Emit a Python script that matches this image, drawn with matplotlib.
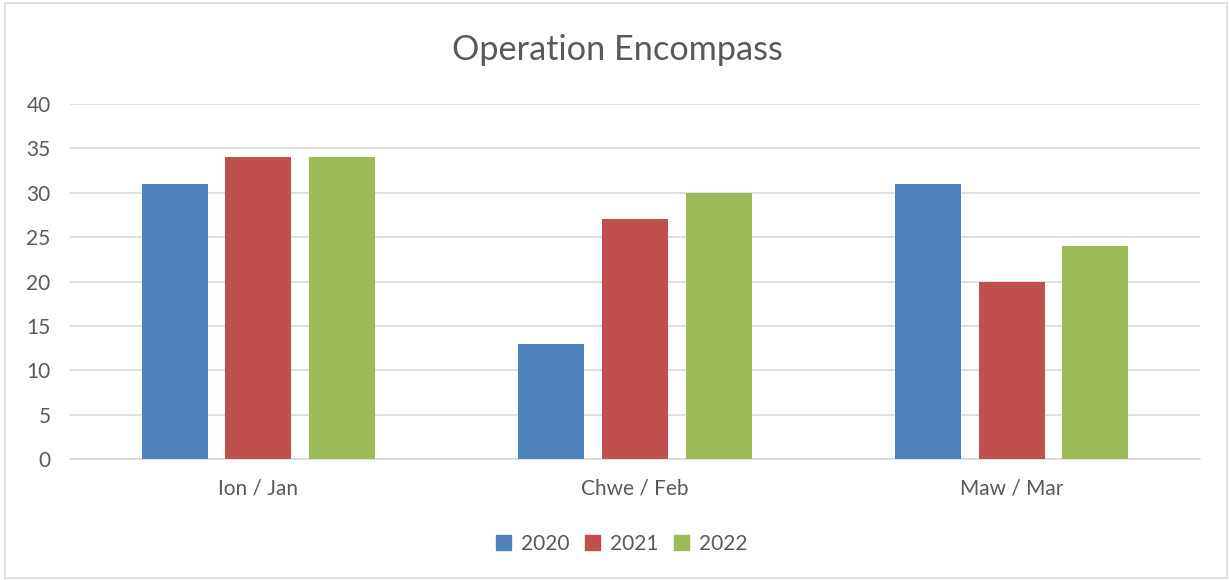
import matplotlib
matplotlib.use("Agg")
import matplotlib.pyplot as plt
import numpy as np
from matplotlib.patches import Rectangle

categories = ["Ion / Jan", "Chwe / Feb", "Maw / Mar"]
series_names = ["2020", "2021", "2022"]
values_2020 = [31, 13, 31]
values_2021 = [34, 27, 20]
values_2022 = [34, 30, 24]
colors = ["#4F81BD", "#C0504D", "#9BBB59"]
yticks = [0, 5, 10, 15, 20, 25, 30, 35, 40]

plt.rcParams['font.family'] = ['Lato', 'DejaVu Sans']
W, H = 1229, 580
fig = plt.figure(figsize=(W/100, H/100), dpi=100)
fig.patches.append(Rectangle((5/W, 2/H), 1222/W, 575/H, transform=fig.transFigure,
                             fill=False, edgecolor="#D9D9D9", linewidth=1.2))
ax = fig.add_axes([70/W, 1 - 459/H, 1130/W, (459-104)/H])

series = [values_2020, values_2021, values_2022]
x = np.arange(len(categories))
bw = 0.175
step = 0.222
for i, (vals, c, name) in enumerate(zip(series, colors, series_names)):
    ax.bar(x + (i - 1) * step, vals, width=bw, color=c, label=name, zorder=3)

ax.set_xlim(-0.5, 2.5)
ax.set_ylim(0, 40)
ax.set_yticks(yticks)
ax.set_xticks(x)
ax.set_xticklabels(categories)
ax.grid(axis='y', color="#D9D9D9", linewidth=1.2, zorder=0)
for s in ['top', 'right', 'left']:
    ax.spines[s].set_visible(False)
ax.spines['bottom'].set_color("#D9D9D9")
ax.spines['bottom'].set_linewidth(1.2)
ax.tick_params(axis='both', length=0, labelsize=15, colors="#595959")
ax.tick_params(axis='y', pad=14)
ax.tick_params(axis='x', pad=14)

fig.text(617/W, 1 - 50/H, "Operation Encompass", ha='center', va='center',
         fontsize=24.7, color="#595959")
handles = [Rectangle((0, 0), 1, 1, color=c) for c in colors]
fig.legend(handles, series_names, loc='center', bbox_to_anchor=(622/W, 1 - 544/H),
           ncol=3, frameon=False, fontsize=15, labelcolor="#595959",
           handlelength=0.7, handleheight=0.7, handletextpad=0.5, columnspacing=0.75)
fig.savefig("out.png", dpi=100)
